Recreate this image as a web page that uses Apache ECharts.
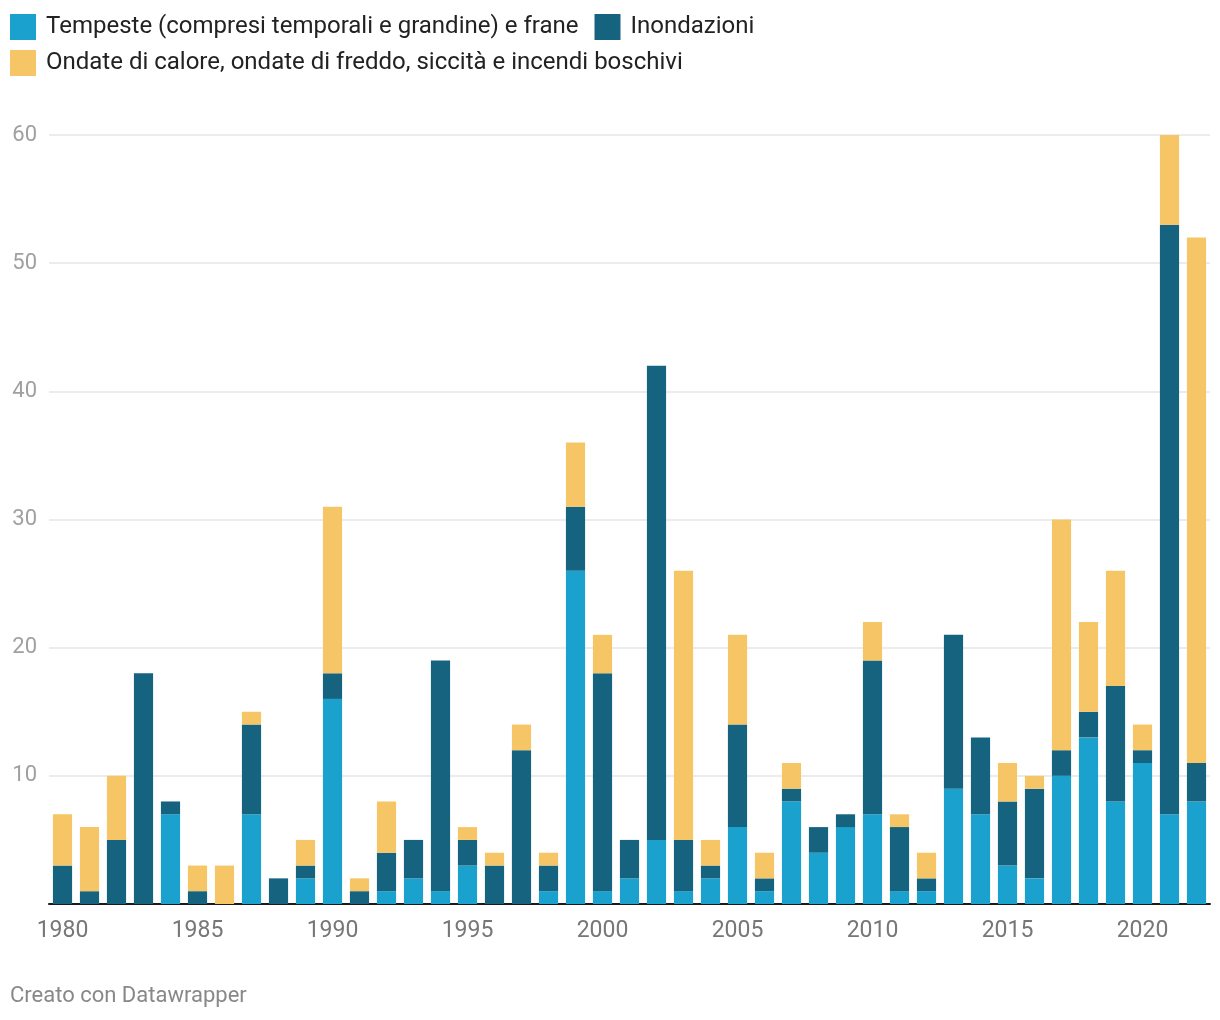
<!DOCTYPE html>
<html>
<head>
<meta charset="utf-8">
<script src="https://cdn.jsdelivr.net/npm/echarts@6/dist/echarts.min.js"></script>
<style>
  html, body { margin: 0; padding: 0; background: #fff; }
  #chart { width: 1220px; height: 1020px; }
</style>
</head>
<body>
<div id="chart"></div>
<script>
const years = [];
for (let y = 1980; y <= 2022; y++) years.push(String(y));

const seriesNames = [
  'Tempeste (compresi temporali e grandine) e frane',
  'Inondazioni',
  'Ondate di calore, ondate di freddo, siccità e incendi boschivi'
];

const tempeste = [0,0,0,0,7,0,0,7,0,2, 16,0,1,2,1,3,0,0,1,26, 1,2,5,1,2,6,1,8,4,6, 7,1,1,9,7,3,2,10,13,8, 11,7,8];
const inondazioni = [3,1,5,18,1,1,0,7,2,1, 2,1,3,3,18,2,3,12,2,5, 17,3,37,4,1,8,1,1,2,1, 12,5,1,12,6,5,7,2,2,9, 1,46,3];
const ondate = [4,5,5,0,0,2,3,1,0,2, 13,1,4,0,0,1,1,2,1,5, 3,0,0,21,2,7,2,2,0,0, 3,1,2,0,0,3,1,18,7,9, 2,7,41];

const yTicks = [0, 10, 20, 30, 40, 50, 60];

const colors = ['#1aa1ce', '#166380', '#f6c566'];

const chart = echarts.init(document.getElementById('chart'), null, { renderer: 'canvas' });

const font = 'Roboto, "Noto Sans", sans-serif';

const legendText = { fontFamily: font, fontSize: 24, color: '#222', padding: [0, 0, 0, 5] };

chart.setOption({
  animation: false,
  color: colors,
  legend: [
    {
      data: [seriesNames[0], seriesNames[1]],
      left: 5, top: 9,
      icon: 'rect', itemWidth: 26, itemHeight: 26, itemGap: 16,
      textStyle: legendText,
      selectedMode: false
    },
    {
      data: [seriesNames[2]],
      left: 5, top: 45,
      icon: 'rect', itemWidth: 26, itemHeight: 26, itemGap: 16,
      textStyle: legendText,
      selectedMode: false
    }
  ],
  graphic: [{
    type: 'text',
    left: 10, top: 985,
    style: { text: 'Creato con Datawrapper', fontFamily: font, fontSize: 22, fill: '#888' }
  }],
  grid: { left: 49, right: 10, top: 135, bottom: 116, containLabel: false },
  xAxis: {
    type: 'category',
    data: years,
    axisLine: { lineStyle: { color: '#1a1a1a', width: 2 } },
    axisTick: { show: false },
    axisLabel: {
      interval: 4,
      margin: 16,
      fontFamily: font, fontSize: 23, color: '#777'
    }
  },
  yAxis: {
    type: 'value',
    min: yTicks[0], max: yTicks[yTicks.length - 1], interval: 10,
    axisLine: { show: false },
    axisTick: { show: false },
    splitLine: { lineStyle: { color: '#e6e6e6', width: 1.5 } },
    axisLabel: {
      margin: 12,
      fontFamily: font, fontSize: 22, color: '#a0a0a0',
      formatter: v => (v === 0 ? '' : String(v))
    }
  },
  series: [
    { name: seriesNames[0], type: 'bar', stack: 'tot', data: tempeste, barCategoryGap: '29%', itemStyle: { color: colors[0] } },
    { name: seriesNames[1], type: 'bar', stack: 'tot', data: inondazioni, barCategoryGap: '29%', itemStyle: { color: colors[1] } },
    { name: seriesNames[2], type: 'bar', stack: 'tot', data: ondate, barCategoryGap: '29%', itemStyle: { color: colors[2] } }
  ]
});
</script>
</body>
</html>
